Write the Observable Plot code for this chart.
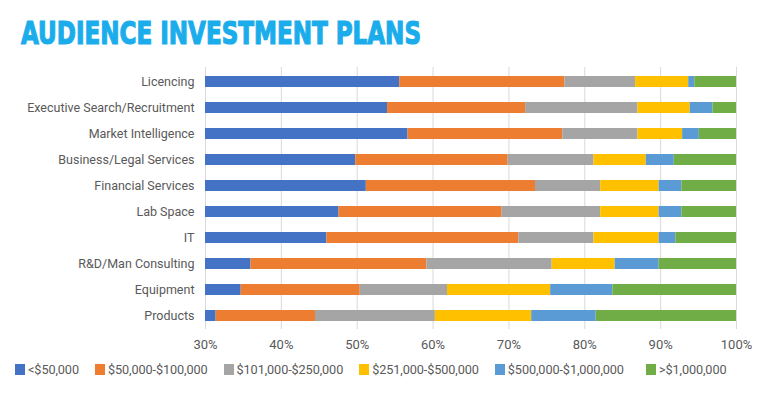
<!DOCTYPE html>
<html><head><meta charset="utf-8">
<script src="https://cdn.jsdelivr.net/npm/d3@7"></script>
<script src="https://cdn.jsdelivr.net/npm/@observablehq/plot@0.6"></script>
<style>
body{margin:0;background:#fff;width:771px;height:394px;overflow:hidden;position:relative;font-family:Roboto,sans-serif;}
#chart{position:absolute;left:0;top:0;}
#title{position:absolute;left:0;top:0;}
#legend{position:absolute;left:15px;top:362.5px;display:flex;align-items:center;font-size:12.7px;letter-spacing:-0.1px;color:#595959;white-space:nowrap;line-height:13px}
.item{display:flex;align-items:center;margin-right:16px}
.item:last-child{margin-left:6px}
.sw{width:10px;height:11px;margin-right:3px;flex:none}
</style></head><body>
<div id="chart"></div>
<svg id="title" width="771" height="60"><text x="21" y="43.5" textLength="400" lengthAdjust="spacingAndGlyphs" font-family="Liberation Sans Narrow, DejaVu Sans Condensed, sans-serif" font-weight="bold" font-size="31.5" fill="#1badeb" stroke="#1badeb" stroke-width="1.2">AUDIENCE INVESTMENT PLANS</text></svg>
<div id="legend"></div>
<script>
const categories = ["Licencing","Executive Search/Recruitment","Market Intelligence","Business/Legal Services","Financial Services","Lab Space","IT","R&D/Man Consulting","Equipment","Products"];
const seriesNames = ["<$50,000","$50,000-$100,000","$101,000-$250,000","$251,000-$500,000","$500,000-$1,000,000",">$1,000,000"];
const colors = ["#4472c4","#ed7d31","#a5a5a5","#ffc000","#5b9bd5","#70ad47"];
const under50k   = [55.6,54.0,56.7,49.8,51.2,47.6,46.0,36.0,34.7,31.4];
const k50to100   = [21.8,18.2,20.4,20.1,22.3,21.5,25.3,23.2,15.7,13.1];
const k101to250  = [9.3,14.8,9.9,11.3,8.6,13.0,9.9,16.5,11.5,15.8];
const k251to500  = [7.0,6.9,5.9,6.9,7.7,7.7,8.6,8.3,13.6,12.7];
const k500to1m   = [0.8,3.0,2.2,3.7,3.0,3.0,2.2,5.8,8.2,8.5];
const over1m     = [5.5,3.1,4.9,8.2,7.2,7.2,8.0,10.2,16.3,18.5];
const xTicks = [30,40,50,60,70,80,90,100];

const seriesValues = [under50k,k50to100,k101to250,k251to500,k500to1m,over1m];
const data = [];
categories.forEach((c,i)=>seriesValues.forEach((vals,s)=>data.push({category:c,series:seriesNames[s],value:vals[i]})));

const chart = Plot.plot({
  width:771,height:355,
  marginLeft:205,marginRight:35,marginTop:67,marginBottom:26,
  style:{fontFamily:"Roboto, sans-serif",background:"transparent",color:"#595959"},
  x:{domain:[30,100],clamp:true},
  y:{domain:categories,paddingInner:0.58,paddingOuter:0.29},
  color:{domain:seriesNames,range:colors},
  marks:[
    Plot.gridX(xTicks,{stroke:"#d9d9d9",strokeOpacity:1,strokeWidth:1}),
    Plot.barX(data,Plot.stackX({x:"value",y:"category",fill:"series",order:seriesNames,clip:true})),
    Plot.axisX(xTicks,{tickSize:0,tickPadding:10,tickFormat:d=>d+"%",fontSize:13,fill:"#595959",label:null}),
    Plot.axisY({tickSize:0,tickPadding:11,fontSize:12.5,fill:"#595959",label:null})
  ]
});
document.getElementById("chart").appendChild(chart);

const legend = document.getElementById("legend");
seriesNames.forEach((n,i)=>{
  const it=document.createElement("div");it.className="item";
  const sw=document.createElement("div");sw.className="sw";sw.style.background=colors[i];
  const t=document.createElement("span");t.textContent=n;
  it.appendChild(sw);it.appendChild(t);legend.appendChild(it);
});
</script>
</body></html>
